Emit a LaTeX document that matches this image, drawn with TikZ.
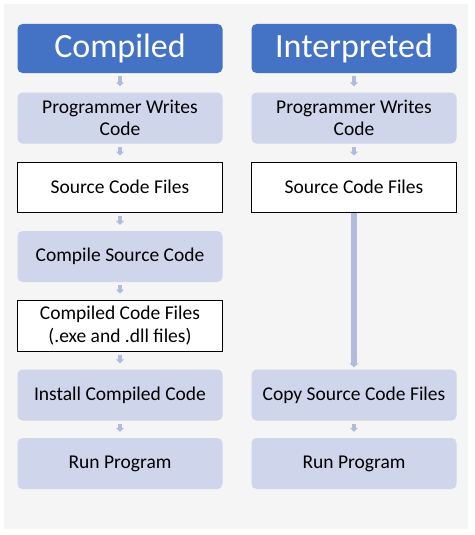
\documentclass[tikz,border=0pt]{standalone}
\usepackage{fontspec}
\setmainfont{Carlito}
\usetikzlibrary{arrows.meta}
\definecolor{hdrblue}{HTML}{4472C4}
\definecolor{lightbox}{HTML}{CFD5EA}
\definecolor{arrowc}{HTML}{B0BCDD}
\definecolor{bggray}{HTML}{F5F5F5}
\tikzset{
  hdr/.style={rectangle, rounded corners=5pt, fill=hdrblue, text=white, minimum width=205pt, minimum height=49pt, font=\fontsize{34}{40}\selectfont, inner sep=0pt},
  lbox/.style={rectangle, rounded corners=5pt, fill=lightbox, text=black, minimum width=205pt, minimum height=51pt, align=center, font=\fontsize{19.5}{22.5}\selectfont, inner sep=0pt},
  wbox/.style={rectangle, draw=black, line width=1pt, fill=white, text=black, minimum width=205pt, minimum height=50pt, align=center, font=\fontsize{19.5}{22.5}\selectfont, inner sep=0pt},
  sarrow/.style={draw=arrowc, line width=4pt, -{Triangle[width=8pt,length=4pt]}, shorten <=3pt, shorten >=6pt},
  larrow/.style={draw=arrowc, line width=6pt, -{Triangle[width=9pt,length=4pt]}, shorten >=2pt}
}
\begin{document}
\begin{tikzpicture}[x=1pt,y=1pt]
\useasboundingbox (0,0) rectangle (474,-535);
\fill[white] (0,0) rectangle (474,-535);
\fill[bggray] (4,-4) rectangle (468,-529);
% left column
\node[hdr] (ch) at (120,-48.5) {Compiled};
\node[lbox] (cp) at (120,-118) {Programmer Writes\\Code};
\node[wbox] (cs) at (120,-187) {Source Code Files};
\node[lbox] (cc) at (120,-256.5) {Compile Source Code};
\node[wbox, minimum height=51pt] (cf) at (120,-325.5) {Compiled Code Files\\(.exe and .dll files)};
\node[lbox] (ci) at (120,-395) {Install Compiled Code};
\node[lbox] (cr) at (120,-463.5) {Run Program};
% right column
\node[hdr] (ih) at (354,-48.5) {Interpreted};
\node[lbox] (ip) at (354,-118) {Programmer Writes\\Code};
\node[wbox] (is) at (354,-187) {Source Code Files};
\node[lbox] (ic) at (354,-395) {Copy Source Code Files};
\node[lbox] (ir) at (354,-463.5) {Run Program};
% arrows
\draw[sarrow] (ch) -- (cp);
\draw[sarrow] (cp) -- (cs);
\draw[sarrow] (cs) -- (cc);
\draw[sarrow] (cc) -- (cf);
\draw[sarrow] (cf) -- (ci);
\draw[sarrow] (ci) -- (cr);
\draw[sarrow] (ih) -- (ip);
\draw[sarrow] (ip) -- (is);
\draw[larrow] (is) -- (ic);
\draw[sarrow] (ic) -- (ir);
\end{tikzpicture}
\end{document}
